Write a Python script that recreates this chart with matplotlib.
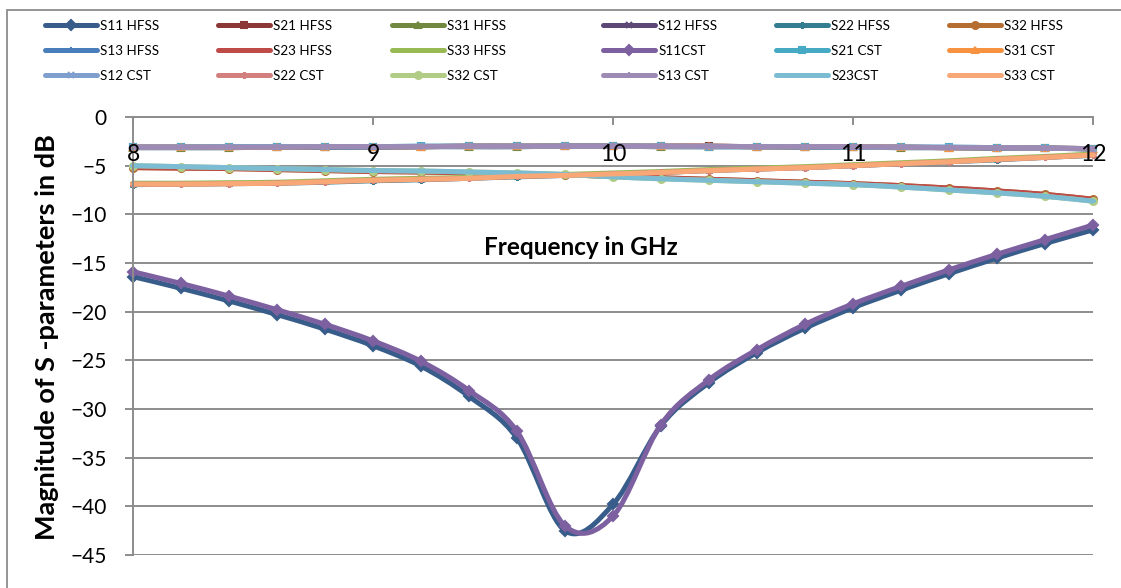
import matplotlib
matplotlib.use("Agg")
import matplotlib.pyplot as plt
import numpy as np
from matplotlib.path import Path
from matplotlib.patches import PathPatch, Rectangle
from matplotlib.lines import Line2D

# CONSTANTS
FONT = "Lato"
GRID_COLOR = "#8c8c8c"
W, H = 1121, 588

# DATA (frequency in GHz, magnitude in dB)
freq = [8.0, 8.2, 8.4, 8.6, 8.8, 9.0, 9.2, 9.4, 9.6, 9.8, 10.0,
        10.2, 10.4, 10.6, 10.8, 11.0, 11.2, 11.4, 11.6, 11.8, 12.0]

s11_hfss = [-16.4, -17.6, -18.9, -20.3, -21.8, -23.5, -25.6, -28.7, -33.0, -42.5, -39.8,
            -31.7, -27.3, -24.2, -21.7, -19.6, -17.8, -16.1, -14.5, -13.0, -11.6]
s11_cst = [-15.9, -17.1, -18.4, -19.8, -21.3, -23.0, -25.1, -28.1, -32.3, -42.0, -41.0,
           -31.6, -27.0, -23.9, -21.3, -19.2, -17.4, -15.7, -14.1, -12.6, -11.1]

s21_hfss = [-3.1, -3.1, -3.1, -3.1, -3.1, -3.05, -3.05, -3.0, -3.0, -3.0, -3.0,
            -3.0, -3.0, -3.05, -3.05, -3.1, -3.1, -3.15, -3.15, -3.2, -3.25]
s31_hfss = [-3.15, -3.15, -3.15, -3.1, -3.1, -3.1, -3.05, -3.05, -3.05, -3.0, -3.0,
            -3.05, -3.05, -3.05, -3.1, -3.1, -3.15, -3.15, -3.2, -3.2, -3.3]
s21_cst = [-3.1, -3.1, -3.05, -3.05, -3.05, -3.05, -3.0, -3.0, -3.0, -3.0, -3.0,
           -3.0, -3.05, -3.05, -3.05, -3.1, -3.1, -3.1, -3.15, -3.2, -3.25]
s31_cst = [-3.1, -3.1, -3.1, -3.1, -3.05, -3.05, -3.05, -3.0, -3.0, -3.0, -3.0,
           -3.0, -3.0, -3.05, -3.05, -3.05, -3.1, -3.15, -3.15, -3.2, -3.25]

s23_hfss = [-5.2, -5.25, -5.3, -5.4, -5.5, -5.6, -5.65, -5.75, -5.85, -5.95, -6.1,
            -6.25, -6.4, -6.55, -6.7, -6.85, -7.05, -7.3, -7.6, -7.95, -8.45]
s23_cst = [-5.0, -5.1, -5.2, -5.3, -5.4, -5.5, -5.55, -5.65, -5.75, -5.9, -6.15,
           -6.35, -6.5, -6.65, -6.8, -6.95, -7.2, -7.5, -7.8, -8.15, -8.65]

s22_hfss = [-6.95, -6.9, -6.85, -6.8, -6.7, -6.55, -6.45, -6.3, -6.15, -6.0, -5.85,
            -5.7, -5.5, -5.35, -5.2, -5.0, -4.8, -4.6, -4.4, -4.15, -3.95]
s33_hfss = [-6.8, -6.8, -6.75, -6.7, -6.55, -6.4, -6.3, -6.2, -6.0, -5.9, -5.75,
            -5.6, -5.4, -5.25, -5.1, -4.9, -4.7, -4.5, -4.25, -4.05, -3.8]
s22_cst = [-6.9, -6.9, -6.85, -6.8, -6.65, -6.5, -6.4, -6.3, -6.1, -6.0, -5.85,
           -5.7, -5.5, -5.35, -5.2, -5.0, -4.8, -4.6, -4.35, -4.15, -3.9]
s33_cst = [-6.9, -6.9, -6.85, -6.8, -6.65, -6.5, -6.4, -6.3, -6.1, -6.0, -5.85,
           -5.7, -5.5, -5.35, -5.2, -5.0, -4.8, -4.6, -4.35, -4.15, -3.9]

y_ticks = [0, -5, -10, -15, -20, -25, -30, -35, -40, -45]
x_ticks = [8, 9, 10, 11, 12]

# series in Excel order: (label, values, colour, marker)
series = [
    ("S11 HFSS", s11_hfss, "#385d8a", "D"),
    ("S21 HFSS", s21_hfss, "#8c3836", "s"),
    ("S31 HFSS", s31_hfss, "#71893f", "^"),
    ("S12 HFSS", s21_hfss, "#5c4776", "x"),
    ("S22 HFSS", s22_hfss, "#357d91", (6, 2, 0)),
    ("S32 HFSS", s23_hfss, "#b66d31", "o"),
    ("S13 HFSS", s31_hfss, "#4a7ebb", "+"),
    ("S23 HFSS", s23_hfss, "#be4b48", "_"),
    ("S33 HFSS", s33_hfss, "#98b954", "_"),
    ("S11CST", s11_cst, "#7d60a0", "D"),
    ("S21 CST", s21_cst, "#46aac5", "s"),
    ("S31 CST", s31_cst, "#f69240", "^"),
    ("S12 CST", s21_cst, "#7f9fcf", "x"),
    ("S22 CST", s22_cst, "#d37f7d", (6, 2, 0)),
    ("S32 CST", s23_cst, "#b0cc85", "o"),
    ("S13 CST", s31_cst, "#9d8bb5", "+"),
    ("S23CST", s23_cst, "#7bbcd3", "_"),
    ("S33 CST", s33_cst, "#f8a877", "_"),
]

# legend column positions (left edge of the line sample, pixels)
legend_cols = [45, 218, 392, 603, 776, 949]


def smooth_path(x, y):
    # Excel-like smoothed line: cubic Bezier segments through every point
    p = np.column_stack([x, y])
    n = len(p)
    verts = [p[0]]
    codes = [Path.MOVETO]
    for i in range(n - 1):
        p0 = p[max(i - 1, 0)]
        p3 = p[min(i + 2, n - 1)]
        c1 = p[i] + (p[i + 1] - p0) / 6.0
        c2 = p[i + 1] - (p3 - p[i]) / 6.0
        verts += [c1, c2, p[i + 1]]
        codes += [Path.CURVE4] * 3
    return Path(verts, codes)


# GRAPH
fig = plt.figure(figsize=(W / 100, H / 100), dpi=100)
fig.patch.set_facecolor("white")

# outer chart border
fig.patches.append(Rectangle((7 / W, -0.05), 1.1, 1 - 10 / H + 0.05, transform=fig.transFigure,
                             fill=False, edgecolor="#8c8c8c", lw=1.3))

ax = fig.add_axes([133 / W, 1 - 555 / H, 960 / W, 438 / H])
ax.set_xlim(8, 12)
ax.set_ylim(-45, 0)

for v in y_ticks:
    ax.axhline(v, color=GRID_COLOR, lw=1.4, zorder=1)

ax.spines["top"].set_visible(False)
ax.spines["right"].set_visible(False)
ax.spines["left"].set_color(GRID_COLOR)
ax.spines["left"].set_linewidth(1.4)
ax.spines["bottom"].set_position(("data", 0))
ax.spines["bottom"].set_color(GRID_COLOR)
ax.spines["bottom"].set_linewidth(1.4)

ax.set_yticks(y_ticks)
ax.set_xticks(x_ticks)
ax.set_xticklabels([str(v) for v in x_ticks])
ax.tick_params(axis="y", direction="out", length=5.8, width=1.4, color=GRID_COLOR,
               labelsize=15, pad=13)
ax.tick_params(axis="x", direction="out", length=5.8, width=1.4, color=GRID_COLOR,
               labelsize=16.5, pad=14)
for lab in ax.get_yticklabels() + ax.get_xticklabels():
    lab.set_family(FONT)
ax.xaxis.set_zorder(5)

# lines and markers
handles = []
for label, vals, color, marker in series:
    patch = PathPatch(smooth_path(freq, vals), fill=False, edgecolor=color, lw=3.6,
                      capstyle="round", joinstyle="round", clip_on=False, zorder=2)
    ax.add_patch(patch)
    ax.plot(freq, vals, linestyle="none", marker=marker, ms=5, color=color,
            mec=color, mew=1.5, clip_on=False, zorder=2)
    handles.append(Line2D([], [], color=color, lw=3.6, marker=marker, ms=5, mew=1.5,
                          solid_capstyle="round"))

ax.text(0.4665, 1 - (248 - 117) / 438, "Frequency in GHz", transform=ax.transAxes,
        ha="center", va="center", fontsize=17.5, fontweight="bold", family=FONT)
fig.text(47 / W, 1 - 337 / H, "Magnitude of S -parameters in dB", rotation=90,
         ha="center", va="center", fontsize=19.5, fontweight="bold", family=FONT)

# legend: one column per legend, Excel fills rows first
for c, xpos in enumerate(legend_cols):
    idx = [c, c + 6, c + 12]
    fig.legend([handles[i] for i in idx], [series[i][0] for i in idx],
               loc="center left", bbox_to_anchor=(xpos / W, 1 - 51 / H),
               frameon=False, prop={"family": FONT, "size": 9.7},
               handlelength=3.85, handletextpad=0.25, labelspacing=0.95,
               borderpad=0, borderaxespad=0)

fig.savefig("out.png", dpi=100, facecolor="white")
